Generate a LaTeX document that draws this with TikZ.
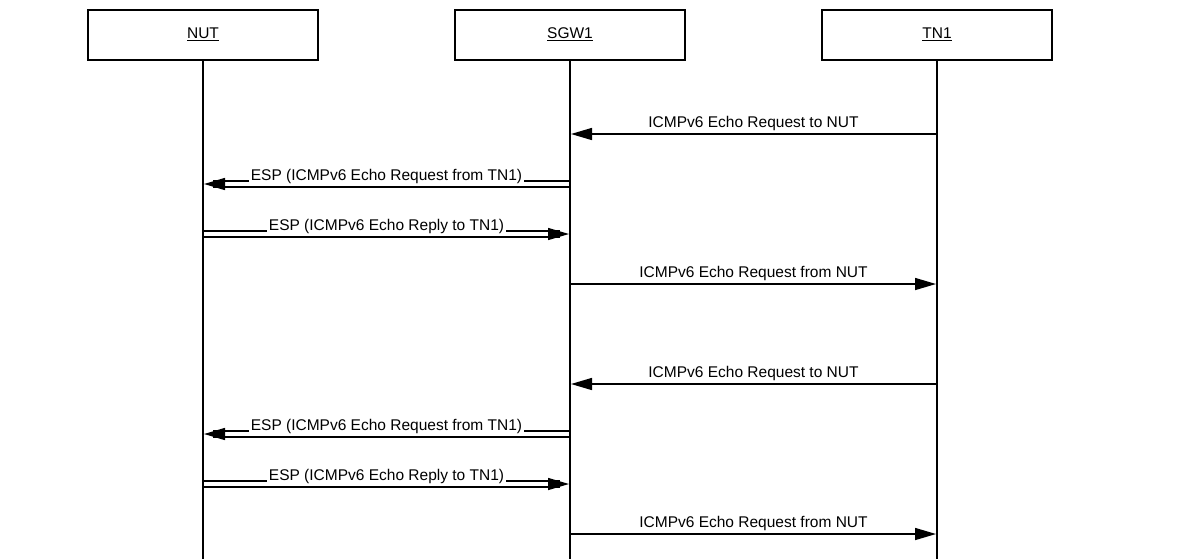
\documentclass[tikz,border=0pt]{standalone}
\usepackage{fontspec}
\setmainfont{Liberation Sans}
\usetikzlibrary{arrows.meta,calc}
\newcommand\ulbl[1]{\setbox0\hbox{#1}\rlap{\rule[-2.85pt]{\wd0}{0.9pt}}#1}
\begin{document}
\begin{tikzpicture}[x=1pt,y=-1pt,
  font=\fontsize{15.5}{18}\selectfont,
  actor/.style={draw, line width=2pt, minimum width=230pt, minimum height=50pt, inner sep=0pt},
  actorlbl/.style={inner sep=0pt, anchor=base},
  life/.style={line width=2pt},
  msg/.style={line width=1.5pt, -{Triangle[length=21pt,width=12pt]}, shorten >=1pt},
  dline/.style={line width=1.5pt},
  lbl/.style={inner sep=0pt, anchor=base},
  dlbl/.style={fill=white, inner xsep=1.5pt, inner ysep=1pt, anchor=base}]
\useasboundingbox (0,0) rectangle (1185,558);

% actors
\node[actor] (nut) at (203,35) {};
\node[actor] (sgw) at (570,35) {};
\node[actor] (tn)  at (937,35) {};
\node[actorlbl, yshift=-3.3pt] (nutlbl) at (nut.center) {\ulbl{NUT}};
\node[actorlbl, yshift=-3.3pt] (sgwlbl) at (sgw.center) {\ulbl{SGW1}};
\node[actorlbl, yshift=-3.3pt] (tnlbl)  at (tn.center)  {\ulbl{TN1}};

% lifeline ends
\coordinate (nutend) at (203,562);
\coordinate (sgwend) at (570,562);
\coordinate (tnend)  at (937,562);
\draw[life] (nut.south) -- (nutend);
\draw[life] (sgw.south) -- (sgwend);
\draw[life] (tn.south) -- (tnend);

% message rows
\foreach \i/\y in {1/134,2/184,3/234,4/284,5/384,6/434,7/484,8/534}{
  \coordinate (nut-\i) at (203,\y);
  \coordinate (sgw-\i) at (570,\y);
  \coordinate (tn-\i)  at (937,\y);
}

\newcommand\smsg[4]{%
  \draw[msg] (#1) -- (#2);
  \node[lbl, yshift=6.3pt] (#4) at ($(#1)!0.5!(#2)$) {#3};
}
\newcommand\dmsg[4]{%
  \draw[dline, shorten >=10pt] ([yshift=2.85pt]#1) -- ([yshift=2.85pt]#2);
  \draw[dline, shorten >=10pt] ([yshift=-2.85pt]#1) -- ([yshift=-2.85pt]#2);
  \draw[msg] ($(#2)!21pt!(#1)$) -- (#2);
  \node[dlbl, yshift=3.7pt] (#4) at ($(#1)!0.5!(#2)$) {#3};
}

\smsg{tn-1}{sgw-1}{ICMPv6 Echo Request to NUT}{m1}
\dmsg{sgw-2}{nut-2}{ESP (ICMPv6 Echo Request from TN1)}{m2}
\dmsg{nut-3}{sgw-3}{ESP (ICMPv6 Echo Reply to TN1)}{m3}
\smsg{sgw-4}{tn-4}{ICMPv6 Echo Request from NUT}{m4}
\smsg{tn-5}{sgw-5}{ICMPv6 Echo Request to NUT}{m5}
\dmsg{sgw-6}{nut-6}{ESP (ICMPv6 Echo Request from TN1)}{m6}
\dmsg{nut-7}{sgw-7}{ESP (ICMPv6 Echo Reply to TN1)}{m7}
\smsg{sgw-8}{tn-8}{ICMPv6 Echo Request from NUT}{m8}
\end{tikzpicture}
\end{document}
